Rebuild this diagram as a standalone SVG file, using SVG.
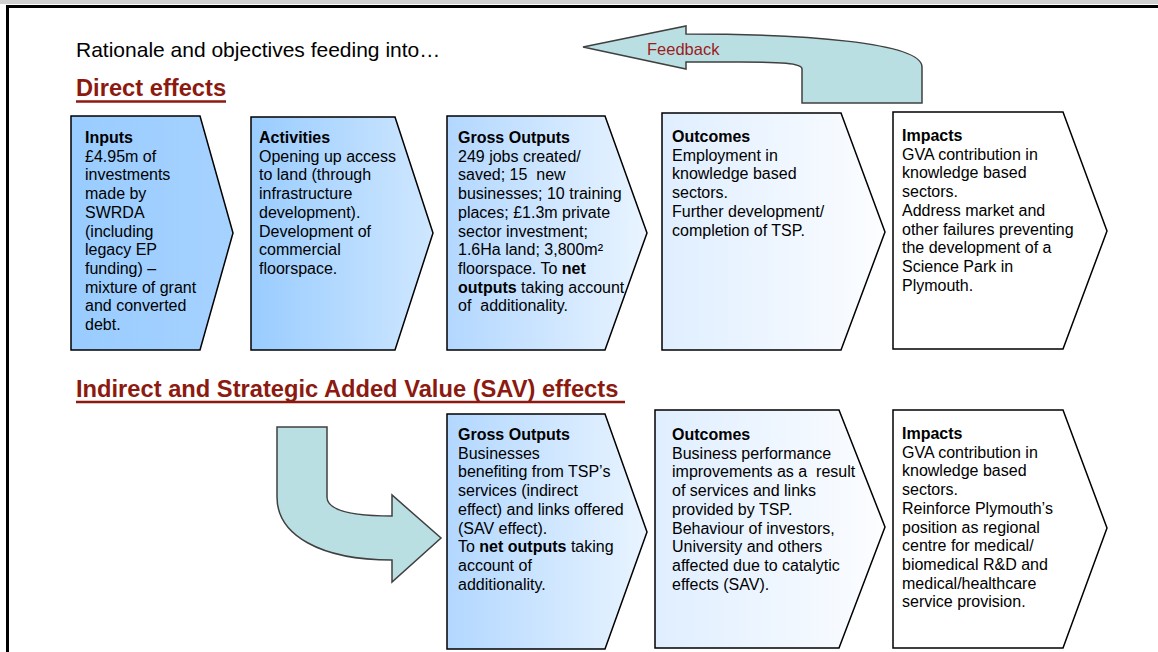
<svg xmlns="http://www.w3.org/2000/svg" width="1158" height="652" viewBox="0 0 1158 652">
<defs>
<linearGradient id="g1" x1="0" y1="0" x2="1" y2="0"><stop offset="0" stop-color="#99ccff"/><stop offset="1" stop-color="#a6d2ff"/></linearGradient>
<linearGradient id="g2" x1="0" y1="0" x2="1" y2="0"><stop offset="0" stop-color="#99ccff"/><stop offset="1" stop-color="#cfe7ff"/></linearGradient>
<linearGradient id="g3" x1="0" y1="0" x2="1" y2="0"><stop offset="0" stop-color="#b2d7ff"/><stop offset="1" stop-color="#e9f4ff"/></linearGradient>
<linearGradient id="g4" x1="0" y1="0" x2="1" y2="0"><stop offset="0" stop-color="#dfeeff"/><stop offset="1" stop-color="#fcfdff"/></linearGradient>
</defs>
<style>
.box{stroke:#000;stroke-width:1.5;stroke-linejoin:miter}
.t{font-family:"Liberation Sans",Arial,sans-serif;font-size:16px;fill:#000;white-space:pre}
.b{font-weight:bold}
.h{font-family:"Liberation Sans",Arial,sans-serif;font-size:23.7px;font-weight:bold;fill:#8c1a10}
.ul{stroke:#8c1a10;stroke-width:2.5}
.arr{fill:#b9dfe3;stroke:#404040;stroke-width:1.5}
</style>
<rect x="0" y="0" width="1158" height="652" fill="#fff"/>
<rect x="0" y="0" width="1158" height="4" fill="#d0d0d0"/>
<path d="M7.5,652 V6.5 H1158" fill="none" stroke="#000" stroke-width="3"/>

<text class="t" x="76" y="57" style="font-size:21px">Rationale and objectives feeding into…</text>

<g id="heading-direct">
<text class="h" x="76" y="96">Direct effects</text>
<line class="ul" x1="76" y1="101.5" x2="226" y2="101.5"/>
</g>
<g id="heading-indirect">
<text class="h" x="76" y="397">Indirect and Strategic Added Value (SAV) effects</text>
<line class="ul" x1="76" y1="402" x2="625" y2="402"/>
</g>

<g id="connectors">
<g id="feedback">
<path class="arr" d="M583,47 L686,26 L686,34 C800,34 922,42 922,67 L922,103 L802,103 L802,69 C802,63 780,62 740,62 L686,62 L686,69 Z"/>
<text x="647" y="55" style="font-family:'Liberation Sans',Arial,sans-serif;font-size:16.5px;fill:#9b1c1c">Feedback</text>
</g>
<path id="indirect-arrow" class="arr" d="M277,427 L327,427 L327,497 C327,510 350,516 392,516 L392,495 L441,538 L392,582 L392,560 C320,560 277,535 277,497 Z"/>
</g>

<g id="inputs">
<path class="box" fill="url(#g1)" d="M71,116 H200 L233,233 L200,350 H71 Z"/>
<text class="t"><tspan class="b" x="85" y="143">Inputs</tspan><tspan x="85" y="161.7">£4.95m of</tspan><tspan x="85" y="180.4">investments</tspan><tspan x="85" y="199.1">made by</tspan><tspan x="85" y="217.8">SWRDA</tspan><tspan x="85" y="236.5">(including</tspan><tspan x="85" y="255.2">legacy EP</tspan><tspan x="85" y="273.9">funding) –</tspan><tspan x="85" y="292.6">mixture of grant</tspan><tspan x="85" y="311.3">and converted</tspan><tspan x="85" y="330">debt.</tspan></text>
</g>

<g id="activities">
<path class="box" fill="url(#g2)" d="M251,117 H395 L433,233 L395,350 H251 Z"/>
<text class="t"><tspan class="b" x="259" y="143">Activities</tspan><tspan x="259" y="161.7">Opening up access</tspan><tspan x="259" y="180.4">to land (through</tspan><tspan x="259" y="199.1">infrastructure</tspan><tspan x="259" y="217.8">development).</tspan><tspan x="259" y="236.5">Development of</tspan><tspan x="259" y="255.2">commercial</tspan><tspan x="259" y="273.9">floorspace.</tspan></text>
</g>

<g id="gross-outputs">
<path class="box" fill="url(#g3)" d="M447,116 H605 L647,233 L605,350 H447 Z"/>
<text class="t"><tspan class="b" x="458" y="143">Gross Outputs</tspan><tspan x="458" y="161.7">249 jobs created/</tspan><tspan x="458" y="180.4">saved; 15  new</tspan><tspan x="458" y="199.1">businesses; 10 training</tspan><tspan x="458" y="217.8">places; £1.3m private</tspan><tspan x="458" y="236.5">sector investment;</tspan><tspan x="458" y="255.2">1.6Ha land; 3,800m²</tspan><tspan x="458" y="273.9">floorspace. To <tspan class="b">net</tspan></tspan><tspan x="458" y="292.6"><tspan class="b">outputs</tspan> taking account</tspan><tspan x="458" y="311.3">of  additionality.</tspan></text>
</g>

<g id="outcomes">
<path class="box" fill="url(#g4)" d="M662,113 H841 L885,232 L841,350 H662 Z"/>
<text class="t"><tspan class="b" x="672" y="142">Outcomes</tspan><tspan x="672" y="160.7">Employment in</tspan><tspan x="672" y="179.4">knowledge based</tspan><tspan x="672" y="198.1">sectors.</tspan><tspan x="672" y="216.8">Further development/</tspan><tspan x="672" y="235.5">completion of TSP.</tspan></text>
</g>

<g id="impacts">
<path class="box" fill="#fff" d="M893,112 H1063 L1107,231 L1063,349 H893 Z"/>
<text class="t"><tspan class="b" x="902" y="141">Impacts</tspan><tspan x="902" y="159.7">GVA contribution in</tspan><tspan x="902" y="178.4">knowledge based</tspan><tspan x="902" y="197.1">sectors.</tspan><tspan x="902" y="215.8">Address market and</tspan><tspan x="902" y="234.5">other failures preventing</tspan><tspan x="902" y="253.2">the development of a</tspan><tspan x="902" y="271.9">Science Park in</tspan><tspan x="902" y="290.6">Plymouth.</tspan></text>
</g>

<g id="indirect-gross-outputs">
<path class="box" fill="url(#g3)" d="M447,414 H605 L647,532 L605,649 H447 Z"/>
<text class="t"><tspan class="b" x="458" y="440">Gross Outputs</tspan><tspan x="458" y="458.7">Businesses</tspan><tspan x="458" y="477.4">benefiting from TSP’s</tspan><tspan x="458" y="496.1">services (indirect</tspan><tspan x="458" y="514.8">effect) and links offered</tspan><tspan x="458" y="533.5">(SAV effect).</tspan><tspan x="458" y="552.2">To <tspan class="b">net outputs</tspan> taking</tspan><tspan x="458" y="570.9">account of</tspan><tspan x="458" y="589.6">additionality.</tspan></text>
</g>

<g id="indirect-outcomes">
<path class="box" fill="url(#g4)" d="M655,410 H839 L885,527 L839,648 H655 Z"/>
<text class="t"><tspan class="b" x="672" y="440">Outcomes</tspan><tspan x="672" y="458.7">Business performance</tspan><tspan x="672" y="477.4">improvements as a  result</tspan><tspan x="672" y="496.1">of services and links</tspan><tspan x="672" y="514.8">provided by TSP.</tspan><tspan x="672" y="533.5">Behaviour of investors,</tspan><tspan x="672" y="552.2">University and others</tspan><tspan x="672" y="570.9">affected due to catalytic</tspan><tspan x="672" y="589.6">effects (SAV).</tspan></text>
</g>

<g id="indirect-impacts">
<path class="box" fill="#fff" d="M893,410 H1063 L1107,528 L1063,648 H893 Z"/>
<text class="t"><tspan class="b" x="902" y="439">Impacts</tspan><tspan x="902" y="457.7">GVA contribution in</tspan><tspan x="902" y="476.4">knowledge based</tspan><tspan x="902" y="495.1">sectors.</tspan><tspan x="902" y="513.8">Reinforce Plymouth’s</tspan><tspan x="902" y="532.5">position as regional</tspan><tspan x="902" y="551.2">centre for medical/</tspan><tspan x="902" y="569.9">biomedical R&amp;D and</tspan><tspan x="902" y="588.6">medical/healthcare</tspan><tspan x="902" y="607.3">service provision.</tspan></text>
</g>
</svg>
